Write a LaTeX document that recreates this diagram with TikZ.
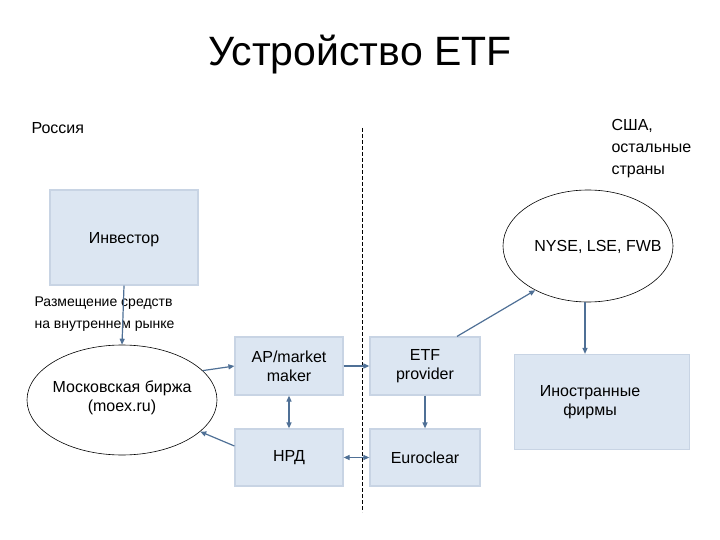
\documentclass[tikz,border=0pt]{standalone}
\usepackage{fontspec}
\setmainfont{Liberation Sans}
\usetikzlibrary{arrows.meta,shapes.geometric}
\definecolor{boxfill}{HTML}{DCE6F2}
\definecolor{boxline}{HTML}{C8D4E4}
\definecolor{arr}{HTML}{4F7096}
\begin{document}
\begin{tikzpicture}[x=1pt,y=-1pt,
 box/.style={draw=boxline,line width=1.2pt,fill=boxfill,inner sep=0},
 ell/.style={draw=black,line width=0.6pt,ellipse,inner sep=0},
 lab/.style={font=\fontsize{16}{19}\selectfont,align=center},
 ar/.style={draw=arr,line width=1.2pt,-{Triangle[length=6pt,width=5pt]}},
 dar/.style={draw=arr,line width=1.2pt,{Triangle[length=6pt,width=5pt]}-{Triangle[length=6pt,width=5pt]}}]
\useasboundingbox (0,0) rectangle (720,540);
\node (title) at (360,55) {\fontsize{41}{44}\selectfont Устройство ETF};
\node[anchor=west,font=\fontsize{16}{19}\selectfont] (ru) at (28,128) {Россия};
\node[anchor=north west,align=left,font=\fontsize{16}{22}\selectfont] (us) at (608,116) {США,\\остальные\\страны};
\coordinate (d1) at (362,128); \coordinate (d2) at (362,512);
\draw[dash pattern=on 4pt off 2pt,line width=0.7pt] (d1) -- (d2);
\node[box,minimum width=148pt,minimum height=95pt] (inv) at (124,237.5) {};
\node[lab] (invt) at (124,240) {Инвестор};
\node[ell,minimum width=170pt,minimum height=112pt] (nyse) at (588,246) {};
\node[lab] (nyset) at (598,247) {NYSE, LSE, FWB};
\node[anchor=west,align=left,font=\fontsize{14}{22}\selectfont] (razm) at (31,314) {Размещение средств\\на внутреннем рынке};
\node[ell,minimum width=190pt,minimum height=110pt] (mos) at (122,400) {};
\node[lab] (most) at (122,398) {Московская биржа\\(moex.ru)};
\node[box,minimum width=108pt,minimum height=58pt] (ap) at (289,366) {};
\node[lab] (apt) at (289,366) {AP/market\\maker};
\node[box,minimum width=110pt,minimum height=58pt] (etf) at (425,366) {};
\node[lab] (etft) at (425,366) {ETF\\provider};
\node[box,minimum width=108pt,minimum height=57pt] (nrd) at (289,457.5) {};
\node[lab] (nrdt) at (289,458) {НРД};
\node[box,minimum width=110pt,minimum height=57pt] (eur) at (425,457.5) {};
\node[lab] (eurt) at (425,458) {Euroclear};
\node[box,minimum width=175pt,minimum height=95pt] (ino) at (602,402) {};
\node[lab] (inot) at (590,402) {Иностранные\\фирмы};
\draw[ar] (inv.south) -- (mos.north);
\draw[ar] (mos.20) -- (ap.west |- 0,366);
\draw[ar] (nrd.west |- 0,446) -- (mos.-22);
\draw[ar] (ap.east) -- (etf.west);
\draw[dar] (ap.south) -- (nrd.north);
\draw[dar] (nrd.east) -- (eur.west);
\draw[ar] (etf.south) -- (eur.north);
\draw[ar] (etf.north -| 457,0) -- (nyse.-140);
\draw[ar] (nyse.south -| 585,0) -- (ino.north -| 585,0);
\end{tikzpicture}
\end{document}
